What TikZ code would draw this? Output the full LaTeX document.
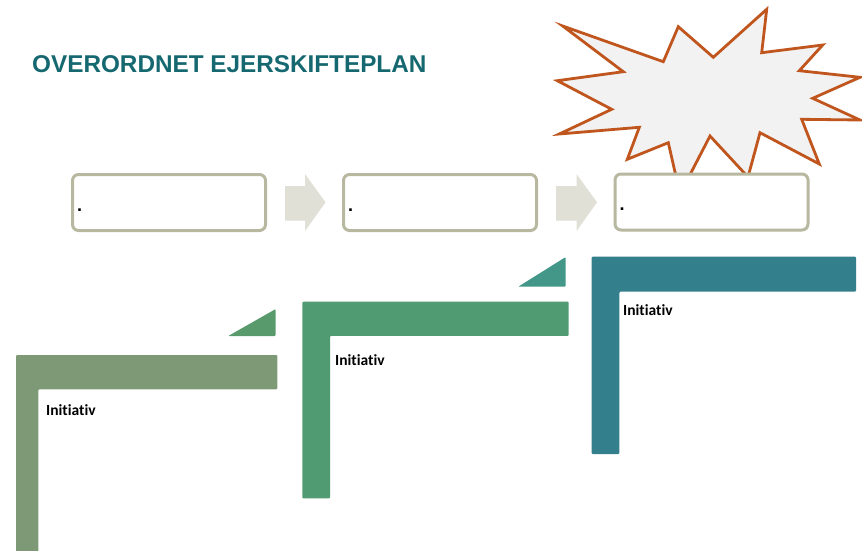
\documentclass[tikz,border=0pt]{standalone}
\usepackage{fontspec}
\setmainfont{Liberation Sans}
\newfontfamily\labelfont[Ligatures=NoCommon]{Carlito}
\definecolor{titlecol}{RGB}{22,104,112}
\definecolor{boxline}{RGB}{184,184,160}
\definecolor{arrowfill}{RGB}{224,224,214}
\definecolor{starline}{RGB}{192,86,30}
\definecolor{starfill}{RGB}{242,242,242}
\definecolor{lone}{RGB}{126,153,117}
\definecolor{tone}{RGB}{89,154,108}
\definecolor{ltwo}{RGB}{81,155,115}
\definecolor{ttwo}{RGB}{67,151,136}
\definecolor{lthree}{RGB}{52,127,140}
\tikzset{
  stepbox/.style={draw=boxline, line width=3pt, fill=white, rounded corners=6pt,
    minimum width=193pt, minimum height=56pt, inner sep=0pt},
  dotlabel/.style={font=\bfseries\fontsize{18}{18}\selectfont, inner sep=0pt},
  blockarrow/.style={fill=arrowfill},
  ellshape/.style={rounded corners=1pt},
  initlabel/.style={font=\labelfont\bfseries\fontsize{15.5}{16}\selectfont, inner sep=0pt, text=black},
}
\begin{document}
\begin{tikzpicture}[x=1pt,y=-1pt]
\useasboundingbox (0,0) rectangle (862,551);
\fill[white] (0,0) rectangle (862,551);

% title
\node[anchor=base west, inner sep=0pt, text=titlecol, font=\bfseries\fontsize{24.3}{24}\selectfont] (title) at (32,73) {OVERORDNET EJERSKIFTEPLAN};

% starburst
\draw[starline, fill=starfill, line width=2.8pt, line join=miter, miter limit=10]
 (562.7,26) -- (663.3,61.7) -- (678.3,26.7) -- (713.3,57.3) -- (766.7,9.3)
 -- (761.7,52.7) -- (822.7,45) -- (799.3,70.7) -- (860,77.3) -- (812.7,98.3)
 -- (860,120) -- (801.7,119.3) -- (819.3,164) -- (760,132.7) -- (748,177)
 -- (710,136) -- (680,194) -- (668.3,142.7) -- (627.3,159.3) -- (639.3,127.3)
 -- (559.3,134) -- (611.7,109.3) -- (557.3,80.7) -- (623.3,71.7) -- cycle;

% process boxes
\node[stepbox] (b1) at (169,202.5) {};
\node[stepbox] (b2) at (440,202.5) {};
\node[stepbox] (b3) at (711.5,202) {};
\node[dotlabel, anchor=base west] (d1) at ([xshift=6pt,yshift=-8.5pt]b1.west) {.};
\node[dotlabel, anchor=base west] (d2) at ([xshift=6pt,yshift=-8.5pt]b2.west) {.};
\node[dotlabel, anchor=base west] (d3) at ([xshift=6pt,yshift=-8.5pt]b3.west) {.};

% block arrows
\fill[blockarrow] (285,186) -- (305,186) -- (305,174) -- (325.5,202.3) -- (305,231) -- (305,220.7) -- (285,220.7) -- cycle;
\fill[blockarrow] (556,186) -- (576.5,186) -- (576.5,174) -- (597,202.3) -- (576.5,231) -- (576.5,220.7) -- (556,220.7) -- cycle;

% triangles
\fill[tone, ellshape] (228.3,336) -- (275.7,336) -- (275.7,309) -- cycle;
\fill[ttwo, ellshape] (518.3,286.7) -- (565.7,286.7) -- (565.7,257) -- cycle;

% L shapes
\fill[lone, ellshape] (16,355) -- (277.3,355) -- (277.3,389.3) -- (38.3,389.3) -- (38.3,560) -- (16,560) -- cycle;
\fill[ltwo, ellshape] (302.3,301.7) -- (568.7,301.7) -- (568.7,335.8) -- (330,335.8) -- (330,498.3) -- (302.3,498.3) -- cycle;
\fill[lthree, ellshape] (591.7,256.7) -- (856,256.7) -- (856,291.7) -- (619.3,291.7) -- (619.3,454) -- (591.7,454) -- cycle;

% labels
\node[initlabel, anchor=base west] (i1) at (46,415) {Initiativ};
\node[initlabel, anchor=base west] (i2) at (335,365.5) {Initiativ};
\node[initlabel, anchor=base west] (i3) at (623,315.5) {Initiativ};
\end{tikzpicture}
\end{document}
